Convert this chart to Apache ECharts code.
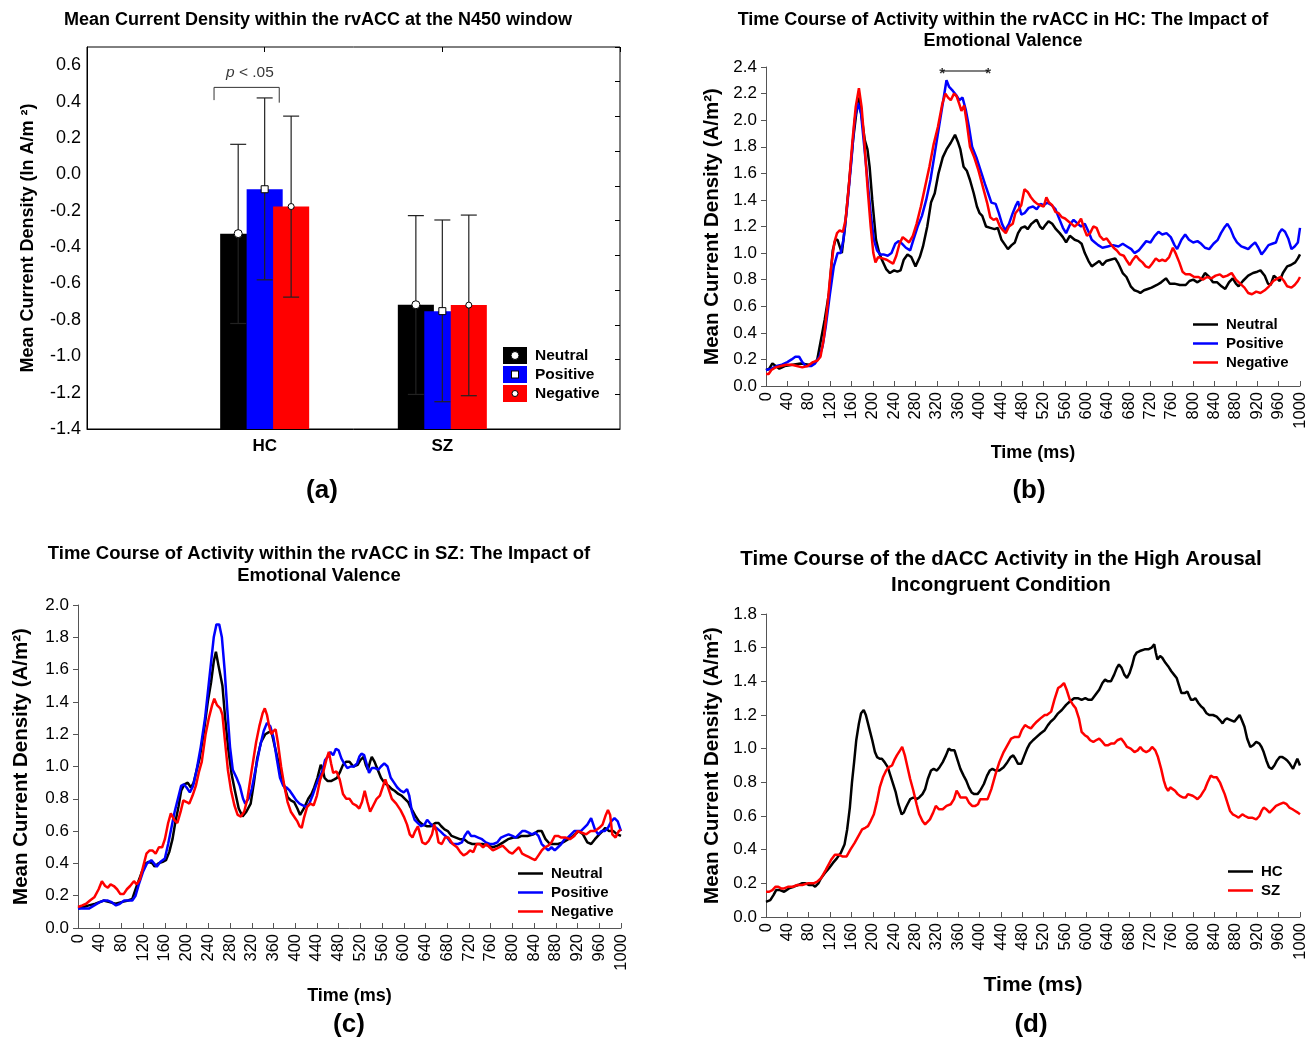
<!DOCTYPE html>
<html><head><meta charset="utf-8">
<script src="https://cdn.jsdelivr.net/npm/echarts@6/dist/echarts.min.js"></script>
<style>html,body{margin:0;padding:0;background:#fff}#c{width:1314px;height:1040px}</style>
</head><body><div id="c"></div>
<script>
// ---------- Panel (a) data ----------
const groups = ['HC', 'SZ'];
const conditions = ['Neutral', 'Positive', 'Negative'];
const meanNeutral = [-0.326, -0.717];
const meanPositive = [-0.082, -0.752];
const meanNegative = [-0.177, -0.719];
const loNeutral = [-0.82, -1.21];
const hiNeutral = [0.165, -0.227];
const loPositive = [-0.58, -1.25];
const hiPositive = [0.42, -0.251];
const loNegative = [-0.675, -1.217];
const hiNegative = [0.32, -0.224];
const yTicksA = [-1.4, 0.7];

// ---------- Panel (b) data: HC rvACC time course [ms, A/m2] ----------
const bNeutral = [[0,0.12],[6,0.13],[12,0.17],[18,0.15],[25,0.13],[35,0.15],[50,0.16],[65,0.17],[80,0.16],[90,0.17],[96,0.2],[103,0.35],[110,0.5],[118,0.7],[125,1.02],[130,1.1],[134,1.1],[142,1.0],[148,1.2],[155,1.5],[163,1.85],[169,2.05],[174,2.17],[180,2.0],[185,1.85],[190,1.78],[194,1.65],[199,1.4],[206,1.1],[212,1.0],[217,0.95],[225,0.88],[232,0.85],[240,0.87],[246,0.86],[252,0.87],[258,0.95],[265,0.99],[272,0.97],[280,0.9],[288,0.97],[294,1.05],[302,1.2],[309,1.38],[316,1.45],[323,1.6],[331,1.72],[338,1.78],[346,1.83],[354,1.89],[360,1.83],[364,1.78],[370,1.65],[376,1.62],[382,1.55],[389,1.45],[395,1.35],[400,1.3],[405,1.28],[412,1.2],[420,1.19],[428,1.18],[434,1.19],[441,1.1],[448,1.06],[453,1.03],[460,1.06],[466,1.08],[472,1.15],[478,1.19],[485,1.2],[490,1.18],[497,1.22],[503,1.24],[507,1.25],[513,1.2],[518,1.18],[523,1.21],[529,1.24],[536,1.22],[543,1.18],[550,1.15],[556,1.12],[562,1.08],[569,1.13],[578,1.1],[585,1.09],[591,1.07],[597,1.0],[604,0.94],[610,0.9],[617,0.92],[624,0.94],[630,0.91],[637,0.94],[645,0.95],[654,0.96],[660,0.92],[668,0.85],[675,0.82],[683,0.75],[690,0.72],[697,0.71],[701,0.7],[708,0.72],[715,0.73],[722,0.74],[732,0.76],[740,0.78],[749,0.81],[756,0.77],[765,0.77],[775,0.76],[786,0.76],[793,0.79],[800,0.8],[808,0.78],[815,0.8],[822,0.85],[830,0.82],[837,0.78],[845,0.78],[853,0.75],[860,0.73],[867,0.78],[874,0.81],[880,0.77],[885,0.75],[893,0.79],[903,0.83],[912,0.85],[920,0.86],[926,0.87],[934,0.83],[940,0.77],[945,0.76],[951,0.83],[957,0.81],[962,0.79],[968,0.85],[976,0.9],[983,0.91],[991,0.93],[996,0.96],[1000,0.99]];
const bPositive = [[0,0.12],[10,0.13],[20,0.15],[30,0.16],[40,0.18],[48,0.2],[55,0.22],[62,0.22],[68,0.18],[75,0.15],[85,0.15],[92,0.17],[100,0.22],[106,0.3],[112,0.45],[120,0.7],[127,0.9],[134,1.0],[140,1.0],[145,1.1],[152,1.35],[160,1.7],[166,2.0],[172,2.13],[178,2.05],[184,1.8],[190,1.55],[196,1.3],[202,1.1],[208,1.02],[214,0.99],[220,0.99],[228,0.98],[235,1.0],[242,1.07],[248,1.09],[255,1.07],[262,1.04],[270,1.02],[276,1.1],[284,1.2],[292,1.28],[300,1.4],[308,1.55],[316,1.75],[324,1.95],[332,2.15],[338,2.3],[343,2.25],[350,2.22],[356,2.19],[362,2.15],[368,2.17],[374,2.08],[380,1.95],[386,1.8],[394,1.72],[402,1.62],[410,1.52],[416,1.45],[422,1.38],[430,1.37],[436,1.3],[442,1.22],[448,1.17],[455,1.22],[462,1.3],[468,1.36],[472,1.39],[478,1.29],[484,1.3],[492,1.34],[500,1.35],[507,1.33],[514,1.37],[520,1.36],[527,1.38],[535,1.36],[542,1.33],[550,1.25],[556,1.19],[562,1.15],[570,1.22],[576,1.25],[584,1.22],[590,1.2],[597,1.22],[604,1.16],[610,1.1],[616,1.08],[622,1.06],[630,1.04],[640,1.05],[650,1.06],[660,1.05],[668,1.07],[676,1.05],[684,1.03],[690,1.0],[698,1.02],[706,1.06],[712,1.09],[720,1.08],[728,1.13],[735,1.16],[742,1.14],[750,1.15],[758,1.12],[765,1.06],[770,1.03],[778,1.1],[785,1.14],[792,1.1],[800,1.08],[808,1.09],[815,1.07],[822,1.04],[830,1.03],[838,1.07],[846,1.1],[852,1.15],[858,1.19],[864,1.22],[870,1.18],[876,1.12],[882,1.08],[890,1.05],[897,1.04],[903,1.03],[910,1.06],[916,1.08],[922,1.04],[928,0.99],[934,1.02],[941,1.06],[948,1.07],[955,1.08],[961,1.15],[966,1.18],[972,1.16],[978,1.11],[984,1.03],[990,1.05],[996,1.08],[1000,1.19]];
const bNegative = [[0,0.09],[5,0.09],[10,0.12],[18,0.14],[28,0.15],[38,0.16],[48,0.16],[58,0.15],[68,0.14],[78,0.15],[88,0.18],[96,0.19],[102,0.22],[108,0.35],[115,0.6],[122,0.9],[128,1.08],[133,1.15],[138,1.17],[144,1.16],[149,1.25],[155,1.5],[162,1.85],[168,2.1],[174,2.24],[179,2.1],[184,1.85],[190,1.5],[196,1.2],[201,1.0],[205,0.93],[210,0.97],[218,0.96],[226,0.95],[234,0.93],[238,0.92],[244,0.98],[250,1.07],[256,1.12],[262,1.1],[268,1.08],[275,1.13],[282,1.22],[290,1.35],[298,1.5],[306,1.65],[314,1.82],[322,1.95],[330,2.12],[336,2.2],[341,2.17],[346,2.15],[352,2.2],[357,2.18],[362,2.12],[366,2.07],[371,2.11],[376,1.98],[382,1.8],[390,1.72],[398,1.62],[406,1.5],[414,1.38],[420,1.27],[426,1.25],[432,1.26],[438,1.2],[444,1.17],[449,1.15],[455,1.2],[462,1.22],[467,1.3],[473,1.33],[478,1.36],[484,1.48],[490,1.46],[496,1.42],[502,1.39],[508,1.37],[514,1.36],[520,1.35],[525,1.42],[530,1.38],[536,1.36],[542,1.31],[548,1.3],[554,1.27],[560,1.26],[566,1.24],[572,1.22],[578,1.2],[584,1.22],[590,1.26],[596,1.18],[601,1.13],[607,1.15],[613,1.2],[619,1.19],[625,1.13],[632,1.1],[638,1.11],[645,1.07],[651,1.04],[657,1.02],[663,0.99],[670,0.98],[676,0.94],[681,0.91],[687,0.95],[693,0.98],[699,0.95],[705,0.93],[711,0.9],[717,0.89],[723,0.92],[730,0.96],[736,0.94],[742,0.95],[748,0.94],[755,0.97],[762,1.04],[768,0.99],[774,0.93],[780,0.86],[786,0.84],[794,0.84],[802,0.82],[810,0.82],[818,0.8],[826,0.82],[834,0.81],[842,0.83],[850,0.84],[856,0.82],[864,0.83],[872,0.85],[880,0.8],[888,0.77],[896,0.74],[903,0.7],[910,0.69],[918,0.71],[926,0.7],[934,0.72],[942,0.75],[950,0.79],[958,0.81],[964,0.82],[970,0.79],[976,0.75],[984,0.74],[990,0.76],[996,0.79],[1000,0.82]];
const bSignificance = [[330, 2.37], [416, 2.37]];

// ---------- Panel (c) data: SZ rvACC time course ----------
const cNeutral = [[0,0.12],[10,0.13],[20,0.14],[32,0.15],[47,0.17],[58,0.16],[69,0.15],[80,0.16],[92,0.17],[100,0.18],[107,0.25],[118,0.35],[125,0.4],[130,0.41],[137,0.4],[141,0.38],[148,0.4],[156,0.41],[162,0.42],[168,0.47],[174,0.55],[179,0.65],[185,0.75],[190,0.85],[196,0.89],[202,0.9],[208,0.87],[213,0.9],[218,0.97],[224,1.05],[232,1.22],[239,1.4],[245,1.52],[250,1.65],[254,1.71],[259,1.62],[266,1.5],[271,1.3],[277,1.1],[283,0.95],[289,0.85],[296,0.74],[303,0.69],[310,0.72],[318,0.77],[324,0.9],[330,1.05],[337,1.15],[345,1.2],[350,1.21],[356,1.22],[362,1.13],[371,1.0],[378,0.9],[386,0.81],[392,0.79],[398,0.78],[404,0.74],[409,0.7],[416,0.74],[424,0.8],[430,0.83],[435,0.87],[441,0.93],[447,1.01],[450,0.99],[454,0.93],[460,0.91],[466,0.91],[472,0.92],[477,0.93],[483,0.97],[488,1.01],[494,1.03],[500,1.03],[507,1.0],[515,1.01],[520,1.04],[526,1.06],[530,1.01],[534,0.98],[538,1.03],[541,1.06],[546,1.03],[552,0.98],[558,0.93],[564,0.9],[572,0.88],[578,0.86],[583,0.85],[590,0.83],[596,0.82],[602,0.8],[608,0.78],[612,0.75],[617,0.72],[622,0.69],[628,0.66],[635,0.64],[643,0.63],[650,0.63],[658,0.65],[664,0.65],[669,0.63],[675,0.61],[681,0.6],[688,0.57],[696,0.56],[703,0.55],[711,0.55],[718,0.53],[726,0.52],[735,0.52],[745,0.52],[755,0.51],[764,0.5],[773,0.51],[783,0.53],[792,0.55],[802,0.56],[810,0.56],[817,0.57],[828,0.57],[839,0.58],[847,0.6],[854,0.6],[861,0.55],[869,0.52],[876,0.52],[884,0.52],[893,0.53],[903,0.55],[912,0.57],[922,0.6],[930,0.58],[938,0.53],[945,0.52],[952,0.55],[960,0.58],[966,0.6],[971,0.62],[978,0.6],[986,0.6],[993,0.58],[1000,0.57]];
const cPositive = [[0,0.12],[10,0.12],[20,0.12],[30,0.14],[40,0.16],[48,0.17],[55,0.17],[62,0.16],[70,0.14],[77,0.15],[85,0.17],[92,0.17],[100,0.17],[106,0.2],[112,0.27],[120,0.35],[127,0.4],[135,0.42],[140,0.4],[145,0.38],[152,0.41],[160,0.43],[166,0.52],[172,0.62],[178,0.72],[184,0.8],[190,0.88],[195,0.89],[200,0.87],[206,0.84],[212,0.88],[218,0.97],[226,1.12],[234,1.3],[242,1.55],[250,1.8],[255,1.88],[260,1.88],[265,1.8],[270,1.6],[275,1.35],[280,1.12],[285,0.98],[292,0.93],[298,0.88],[304,0.8],[308,0.77],[314,0.8],[320,0.86],[328,1.0],[335,1.12],[342,1.22],[348,1.27],[354,1.25],[360,1.18],[366,1.05],[372,0.93],[378,0.88],[384,0.87],[390,0.85],[396,0.82],[402,0.79],[408,0.77],[414,0.76],[420,0.75],[426,0.77],[432,0.82],[438,0.88],[444,0.93],[450,0.97],[455,1.04],[460,1.06],[465,1.09],[470,1.07],[475,1.11],[480,1.1],[485,1.05],[490,1.02],[496,0.99],[502,1.0],[508,1.0],[514,1.02],[518,1.06],[522,1.08],[527,1.07],[532,1.01],[536,0.96],[541,0.99],[547,0.99],[553,0.98],[558,1.0],[564,1.02],[570,1.0],[576,0.93],[582,0.9],[588,0.87],[594,0.85],[600,0.84],[606,0.86],[610,0.82],[615,0.72],[620,0.67],[626,0.65],[632,0.63],[638,0.64],[643,0.67],[648,0.65],[654,0.63],[660,0.62],[667,0.6],[673,0.58],[680,0.56],[686,0.53],[692,0.52],[700,0.52],[707,0.53],[712,0.57],[718,0.6],[724,0.57],[730,0.57],[737,0.56],[744,0.55],[751,0.53],[758,0.52],[765,0.52],[772,0.53],[779,0.56],[786,0.57],[793,0.58],[800,0.57],[806,0.56],[812,0.58],[818,0.6],[824,0.6],[830,0.59],[836,0.58],[842,0.59],[848,0.57],[854,0.52],[860,0.5],[866,0.48],[872,0.5],[878,0.48],[884,0.5],[890,0.52],[896,0.55],[902,0.56],[908,0.58],[914,0.6],[920,0.6],[926,0.6],[932,0.62],[938,0.64],[945,0.68],[952,0.61],[958,0.58],[964,0.6],[970,0.6],[976,0.62],[982,0.66],[988,0.68],[994,0.66],[1000,0.6]];
const cNegative = [[0,0.13],[8,0.14],[15,0.15],[22,0.17],[30,0.19],[38,0.24],[44,0.29],[50,0.26],[55,0.25],[60,0.27],[66,0.26],[72,0.24],[78,0.21],[84,0.21],[90,0.24],[96,0.26],[103,0.29],[108,0.27],[114,0.3],[120,0.38],[126,0.46],[132,0.48],[137,0.48],[143,0.46],[149,0.5],[155,0.5],[160,0.55],[166,0.65],[171,0.71],[177,0.67],[183,0.65],[189,0.72],[194,0.79],[200,0.78],[205,0.77],[211,0.82],[217,0.88],[223,0.97],[228,1.03],[235,1.2],[241,1.3],[247,1.38],[251,1.42],[256,1.38],[262,1.36],[266,1.32],[270,1.18],[276,0.98],[282,0.85],[288,0.76],[294,0.7],[300,0.69],[306,0.72],[312,0.8],[320,0.98],[328,1.15],[334,1.25],[340,1.33],[344,1.36],[348,1.32],[352,1.25],[356,1.2],[360,1.22],[364,1.23],[368,1.15],[374,1.0],[380,0.88],[386,0.78],[392,0.72],[396,0.7],[400,0.68],[404,0.66],[408,0.63],[412,0.62],[416,0.68],[422,0.75],[428,0.77],[434,0.76],[440,0.82],[446,0.92],[452,0.97],[458,1.05],[462,1.09],[466,1.02],[470,0.96],[476,0.97],[482,0.92],[488,0.83],[494,0.8],[500,0.8],[506,0.77],[512,0.76],[518,0.74],[523,0.78],[528,0.85],[533,0.78],[538,0.72],[544,0.76],[550,0.8],[556,0.82],[562,0.88],[566,0.92],[572,0.86],[578,0.8],[586,0.77],[594,0.73],[600,0.69],[606,0.64],[611,0.58],[616,0.56],[621,0.6],[626,0.63],[630,0.58],[634,0.53],[640,0.52],[646,0.54],[652,0.58],[656,0.64],[660,0.6],[664,0.53],[670,0.52],[676,0.56],[682,0.56],[690,0.52],[698,0.5],[704,0.47],[710,0.45],[716,0.46],[722,0.48],[728,0.47],[734,0.52],[740,0.52],[746,0.5],[752,0.52],[758,0.5],[764,0.48],[770,0.49],[776,0.5],[782,0.51],[788,0.49],[794,0.47],[800,0.46],[806,0.48],[812,0.5],[818,0.46],[824,0.45],[830,0.44],[836,0.43],[842,0.42],[848,0.45],[854,0.48],[860,0.5],[866,0.51],[872,0.53],[878,0.57],[884,0.57],[890,0.56],[898,0.56],[906,0.55],[914,0.57],[920,0.6],[928,0.59],[936,0.58],[944,0.6],[952,0.6],[960,0.62],[966,0.64],[972,0.7],[976,0.73],[980,0.7],[984,0.58],[990,0.56],[996,0.6],[1000,0.61]];

// ---------- Panel (d) data: dACC, high arousal incongruent ----------
const dHC = [[0,0.09],[2,0.09],[8,0.1],[14,0.13],[19,0.16],[26,0.16],[34,0.15],[43,0.17],[52,0.18],[60,0.19],[67,0.2],[74,0.2],[81,0.19],[88,0.19],[92,0.18],[98,0.2],[103,0.23],[110,0.26],[118,0.29],[125,0.32],[133,0.35],[140,0.38],[147,0.43],[152,0.52],[157,0.65],[161,0.8],[165,0.92],[169,1.05],[174,1.15],[178,1.21],[183,1.23],[187,1.2],[191,1.15],[195,1.1],[199,1.05],[204,0.98],[208,0.95],[213,0.94],[217,0.94],[222,0.92],[228,0.89],[235,0.82],[243,0.74],[248,0.67],[254,0.61],[258,0.62],[262,0.65],[265,0.67],[270,0.7],[276,0.71],[282,0.7],[287,0.71],[293,0.73],[298,0.76],[303,0.82],[309,0.87],[314,0.88],[320,0.87],[325,0.89],[331,0.92],[337,0.96],[342,1.0],[347,0.99],[353,0.99],[358,0.94],[364,0.88],[370,0.84],[375,0.81],[380,0.77],[385,0.74],[390,0.73],[396,0.73],[401,0.75],[408,0.79],[414,0.84],[419,0.87],[424,0.88],[430,0.87],[437,0.87],[445,0.89],[452,0.92],[458,0.95],[463,0.96],[467,0.94],[472,0.91],[478,0.91],[484,0.96],[489,1.0],[494,1.03],[500,1.05],[507,1.07],[514,1.09],[522,1.11],[528,1.14],[533,1.16],[540,1.18],[547,1.21],[554,1.23],[562,1.26],[569,1.28],[577,1.3],[584,1.3],[591,1.29],[598,1.3],[604,1.29],[610,1.29],[617,1.32],[624,1.35],[630,1.39],[635,1.41],[640,1.4],[646,1.4],[652,1.44],[657,1.48],[661,1.5],[666,1.48],[671,1.44],[676,1.42],[681,1.45],[686,1.5],[690,1.55],[694,1.57],[700,1.58],[709,1.59],[716,1.59],[722,1.6],[727,1.62],[730,1.57],[733,1.53],[738,1.55],[742,1.54],[748,1.51],[753,1.49],[759,1.46],[764,1.44],[769,1.42],[774,1.37],[778,1.33],[784,1.33],[789,1.34],[793,1.31],[796,1.29],[800,1.29],[804,1.3],[810,1.27],[815,1.25],[819,1.24],[825,1.21],[830,1.2],[837,1.2],[844,1.19],[850,1.17],[855,1.15],[859,1.17],[863,1.18],[870,1.17],[877,1.16],[882,1.18],[887,1.2],[891,1.17],[896,1.13],[901,1.06],[907,1.01],[912,1.02],[918,1.04],[924,1.03],[928,1.01],[932,0.98],[937,0.93],[942,0.89],[947,0.88],[952,0.9],[957,0.93],[962,0.95],[967,0.95],[972,0.94],[976,0.93],[981,0.91],[987,0.88],[991,0.91],[995,0.94],[1000,0.9]];
const dSZ = [[0,0.15],[6,0.15],[12,0.16],[18,0.18],[23,0.18],[28,0.17],[34,0.17],[42,0.18],[50,0.18],[59,0.19],[68,0.19],[78,0.2],[89,0.2],[96,0.21],[103,0.23],[112,0.28],[122,0.34],[129,0.37],[136,0.37],[143,0.36],[151,0.36],[158,0.4],[166,0.44],[173,0.48],[180,0.52],[186,0.53],[191,0.54],[196,0.57],[202,0.61],[208,0.69],[213,0.77],[219,0.83],[225,0.87],[230,0.89],[236,0.9],[240,0.93],[245,0.96],[251,0.99],[255,1.01],[260,0.96],[265,0.89],[270,0.82],[276,0.75],[282,0.67],[287,0.61],[293,0.57],[298,0.55],[301,0.55],[307,0.58],[313,0.62],[318,0.66],[324,0.64],[331,0.64],[338,0.66],[346,0.67],[352,0.7],[357,0.75],[361,0.73],[364,0.71],[370,0.71],[375,0.71],[380,0.68],[386,0.66],[392,0.66],[397,0.67],[401,0.7],[404,0.71],[410,0.7],[415,0.7],[422,0.76],[430,0.85],[437,0.92],[445,0.98],[452,1.02],[459,1.06],[466,1.07],[474,1.07],[479,1.11],[485,1.14],[490,1.13],[496,1.12],[501,1.14],[507,1.16],[514,1.18],[522,1.2],[526,1.2],[529,1.19],[534,1.22],[540,1.29],[547,1.36],[552,1.37],[558,1.39],[563,1.35],[569,1.29],[575,1.26],[580,1.24],[586,1.18],[591,1.1],[597,1.08],[602,1.07],[607,1.05],[613,1.04],[618,1.05],[624,1.06],[630,1.04],[635,1.02],[640,1.02],[646,1.03],[652,1.03],[658,1.05],[665,1.06],[670,1.04],[676,1.01],[683,1.0],[690,0.98],[696,0.99],[701,1.01],[706,0.99],[712,0.98],[718,0.99],[723,1.01],[729,0.99],[734,0.95],[740,0.88],[745,0.81],[749,0.77],[753,0.75],[757,0.77],[760,0.77],[766,0.75],[771,0.73],[775,0.72],[781,0.71],[786,0.71],[790,0.73],[793,0.74],[799,0.72],[804,0.71],[808,0.7],[814,0.72],[818,0.74],[822,0.76],[827,0.8],[833,0.84],[838,0.83],[844,0.83],[850,0.8],[855,0.76],[859,0.73],[864,0.68],[869,0.63],[874,0.61],[880,0.6],[885,0.59],[888,0.6],[892,0.61],[897,0.6],[903,0.59],[910,0.59],[918,0.58],[924,0.6],[928,0.63],[932,0.65],[937,0.64],[943,0.62],[949,0.64],[955,0.66],[962,0.67],[969,0.68],[975,0.67],[980,0.65],[986,0.64],[991,0.63],[996,0.62],[1000,0.61]];

// ---------- chart ----------
const FONT = "'Liberation Sans', Arial, sans-serif";
const BLACK = '#000000', BLUE = '#0000ff', RED = '#ff0000';
const chart = echarts.init(document.getElementById('c'), null, {renderer: 'canvas'});

function svgIcon(fill, marker) {
  const s = "<svg xmlns='http://www.w3.org/2000/svg' width='24' height='17'><rect width='24' height='17' fill='" + fill + "'/>" + marker + "</svg>";
  return 'image://data:image/svg+xml;charset=utf-8,' + encodeURIComponent(s);
}
const markerSvg = [
  "<circle cx='12' cy='8.5' r='4' fill='#fff' stroke='#000' stroke-width='1'/>",
  "<rect x='8.5' y='5' width='7' height='7' fill='#fff' stroke='#000' stroke-width='1'/>",
  "<circle cx='12' cy='8.5' r='3' fill='#fff' stroke='#000' stroke-width='1'/>"
];
const condColors = [BLACK, BLUE, RED];
const means = [meanNeutral, meanPositive, meanNegative];
const los = [loNeutral, loPositive, loNegative];
const his = [hiNeutral, hiPositive, hiNegative];
const barOffsetUnits = [-0.149, 0, 0.149];
const barWidthUnits = 0.203;

function barRender(ci) {
  return function (params, api) {
    const x = api.value(0), v = api.value(1);
    const unit = api.size([1, 0])[0];
    const base = api.coord([x, yTicksA[0]]);
    const top = api.coord([x, v]);
    const cx = base[0] + barOffsetUnits[ci] * unit;
    const w = barWidthUnits * unit;
    return {type: 'rect', shape: {x: cx - w / 2, y: top[1], width: w, height: base[1] - top[1]}, style: {fill: condColors[ci]}};
  };
}
function errRender(ci) {
  return function (params, api) {
    const x = api.value(0);
    const unit = api.size([1, 0])[0];
    const m = api.coord([x, api.value(1)]);
    const lo = api.coord([x, api.value(2)]);
    const hi = api.coord([x, api.value(3)]);
    const cx = m[0] + barOffsetUnits[ci] * unit;
    const cap = 8;
    const ls = {stroke: '#222', lineWidth: 1.2};
    let mk;
    if (ci === 0) mk = {type: 'circle', shape: {cx: cx, cy: m[1], r: 4}, style: {fill: '#fff', stroke: '#000', lineWidth: 1}};
    else if (ci === 1) mk = {type: 'rect', shape: {x: cx - 3.5, y: m[1] - 3.5, width: 7, height: 7}, style: {fill: '#fff', stroke: '#000', lineWidth: 1}};
    else mk = {type: 'circle', shape: {cx: cx, cy: m[1], r: 3}, style: {fill: '#fff', stroke: '#000', lineWidth: 1}};
    return {type: 'group', children: [
      {type: 'line', shape: {x1: cx, y1: hi[1], x2: cx, y2: lo[1]}, style: ls},
      {type: 'line', shape: {x1: cx - cap, y1: hi[1], x2: cx + cap, y2: hi[1]}, style: ls},
      {type: 'line', shape: {x1: cx - cap, y1: lo[1], x2: cx + cap, y2: lo[1]}, style: ls},
      mk
    ]};
  };
}

const seriesA = [];
conditions.forEach(function (c, ci) {
  seriesA.push({
    type: 'custom', name: 'a|' + c, xAxisIndex: 0, yAxisIndex: 0, z: 2,
    itemStyle: {color: condColors[ci]},
    renderItem: barRender(ci),
    data: groups.map(function (g, gi) { return [gi + 1, means[ci][gi]]; })
  });
});
conditions.forEach(function (c, ci) {
  seriesA.push({
    type: 'custom', name: 'aerr' + ci, xAxisIndex: 0, yAxisIndex: 0, z: 4,
    renderItem: errRender(ci),
    data: groups.map(function (g, gi) { return [gi + 1, means[ci][gi], los[ci][gi], his[ci][gi]]; })
  });
});
// significance bracket in (a)
seriesA.push({
  type: 'line', name: 'bracket', xAxisIndex: 0, yAxisIndex: 0, symbol: 'none', silent: true, z: 5,
  lineStyle: {color: '#333', width: 1},
  data: [[0.715, 0.408], [0.715, 0.478], [1.082, 0.478], [1.082, 0.394]]
});
seriesA.push({
  type: 'scatter', name: 'ptext', xAxisIndex: 0, yAxisIndex: 0, symbolSize: 1, silent: true,
  itemStyle: {color: 'rgba(0,0,0,0)'},
  label: {show: true, position: 'inside', formatter: '{i|p} < .05', color: '#000', fontSize: 15.5, fontFamily: FONT,
    rich: {i: {fontStyle: 'italic', fontSize: 15.5, fontFamily: FONT, color: '#000'}}},
  data: [[0.917, 0.558]]
});

function lineSeries(name, data, color, gi) {
  return {type: 'line', name: name, xAxisIndex: gi, yAxisIndex: gi, data: data, symbol: 'none', showSymbol: false,
    smooth: false, lineStyle: {color: color, width: 2.5}, itemStyle: {color: color}, silent: true, z: 3};
}

const grids = [
  {left: 87, top: 47, width: 533, height: 382, show: true, borderColor: '#000', borderWidth: 1},
  {left: 766, top: 67, width: 534, height: 319},
  {left: 78, top: 605, width: 543, height: 323},
  {left: 766, top: 614, width: 534, height: 303}
];

function timeXAxis(gi, nameSize, nameGap) {
  return {type: 'value', gridIndex: gi, min: 0, max: 1000, interval: 40,
    axisLine: {show: true, onZero: false, lineStyle: {color: '#555', width: 1}},
    axisTick: {show: true, inside: true, length: 5, lineStyle: {color: '#555'}},
    axisLabel: {rotate: 90, fontSize: 16.5, color: '#000', margin: 6, fontFamily: FONT, formatter: function (v) { return String(v); }},
    splitLine: {show: false},
    name: 'Time (ms)', nameLocation: 'middle', nameGap: nameGap,
    nameTextStyle: {fontWeight: 'bold', fontSize: nameSize, color: '#000', fontFamily: FONT}};
}
function densityYAxis(gi, max, nameGap) {
  return {type: 'value', gridIndex: gi, min: 0, max: max, interval: 0.2,
    axisLine: {show: true, onZero: false, lineStyle: {color: '#555', width: 1}},
    axisTick: {show: true, inside: false, length: 5, lineStyle: {color: '#555'}},
    axisLabel: {fontSize: 17, color: '#000', margin: 9, fontFamily: FONT, formatter: function (v) { return v.toFixed(1); }},
    splitLine: {show: false},
    name: 'Mean Current Density (A/m²)', nameLocation: 'middle', nameRotate: 90, nameGap: nameGap,
    nameTextStyle: {fontWeight: 'bold', fontSize: 20.5, color: '#000', fontFamily: FONT}};
}

const titleStyle = function (size, lh) { return {fontSize: size, fontWeight: 'bold', color: '#000', fontFamily: FONT, lineHeight: lh}; };
const legendText = function (size, lh) { return {fontWeight: 'bold', fontSize: size, color: '#000', fontFamily: FONT, lineHeight: lh, padding: [0, 0, 0, 3]}; };

const option = {
  animation: false,
  backgroundColor: '#fff',
  title: [
    {text: 'Mean Current Density within the rvACC at the N450 window', left: 318, top: 9, textAlign: 'center', padding: 0, textStyle: titleStyle(18, 22)},
    {text: 'Time Course of Activity within the rvACC in HC: The Impact of\nEmotional Valence', left: 1003, top: 9, textAlign: 'center', padding: 0, textStyle: titleStyle(18, 21.5)},
    {text: 'Time Course of Activity within the rvACC in SZ: The Impact of\nEmotional Valence', left: 319, top: 543, textAlign: 'center', padding: 0, textStyle: titleStyle(18.5, 22)},
    {text: 'Time Course of the dACC Activity in the High Arousal\nIncongruent Condition', left: 1001, top: 546, textAlign: 'center', padding: 0, textStyle: titleStyle(20.5, 26)},
    {text: '(a)', left: 322, top: 477, textAlign: 'center', padding: 0, textStyle: titleStyle(26, 28)},
    {text: '(b)', left: 1029, top: 477, textAlign: 'center', padding: 0, textStyle: titleStyle(26, 28)},
    {text: '(c)', left: 349, top: 1011, textAlign: 'center', padding: 0, textStyle: titleStyle(26, 28)},
    {text: '(d)', left: 1031, top: 1011, textAlign: 'center', padding: 0, textStyle: titleStyle(26, 28)}
  ],
  legend: [
    {orient: 'vertical', left: 503, top: 347, padding: 0, itemWidth: 24, itemHeight: 17, itemGap: 2, selectedMode: false,
      data: conditions.map(function (c, ci) { return {name: 'a|' + c, icon: svgIcon(condColors[ci], markerSvg[ci])}; }),
      formatter: function (n) { return n.split('|')[1]; },
      textStyle: legendText(15.5, 17)},
    {orient: 'vertical', left: 1193, top: 317, padding: 0, icon: 'rect', itemWidth: 25, itemHeight: 2.5, itemGap: 4, selectedMode: false,
      data: conditions.map(function (c) { return 'b|' + c; }),
      formatter: function (n) { return n.split('|')[1]; },
      textStyle: legendText(15, 15)},
    {orient: 'vertical', left: 518, top: 866, padding: 0, icon: 'rect', itemWidth: 25, itemHeight: 2.5, itemGap: 4, selectedMode: false,
      data: conditions.map(function (c) { return 'c|' + c; }),
      formatter: function (n) { return n.split('|')[1]; },
      textStyle: legendText(15, 15)},
    {orient: 'vertical', left: 1228, top: 864, padding: 0, icon: 'rect', itemWidth: 25, itemHeight: 2.5, itemGap: 4, selectedMode: false,
      data: ['d|HC', 'd|SZ'],
      formatter: function (n) { return n.split('|')[1]; },
      textStyle: legendText(15, 15)}
  ],
  grid: grids,
  xAxis: [
    {type: 'value', gridIndex: 0, min: 0, max: 3, interval: 1,
      axisLine: {show: true, onZero: false, lineStyle: {color: '#000'}}, axisTick: {show: false}, splitLine: {show: false},
      axisLabel: {fontSize: 17, fontWeight: 'bold', color: '#000', margin: 9, fontFamily: FONT,
        formatter: function (v) { return groups[v - 1] || ''; }}},
    timeXAxis(1, 18, 58),
    timeXAxis(2, 18, 59),
    timeXAxis(3, 21, 58),
    {type: 'value', gridIndex: 0, position: 'top', min: 0, max: 3, interval: 1,
      axisLine: {show: false, onZero: false}, axisTick: {show: true, inside: true, length: 5, lineStyle: {color: '#000'}},
      axisLabel: {show: false}, splitLine: {show: false}}
  ],
  yAxis: [
    {type: 'value', gridIndex: 0, min: yTicksA[0], max: yTicksA[1], interval: 0.2,
      axisLine: {show: true, onZero: false, lineStyle: {color: '#000'}}, axisTick: {show: false}, splitLine: {show: false},
      axisLabel: {fontSize: 18, color: '#000', margin: 6, fontFamily: FONT, showMaxLabel: false,
        formatter: function (v) { return v.toFixed(1); }},
      name: 'Mean Current Density (In A/m ²)', nameLocation: 'middle', nameRotate: 90, nameGap: 50,
      nameTextStyle: {fontWeight: 'bold', fontSize: 18, color: '#000', fontFamily: FONT}},
    densityYAxis(1, 2.4, 43),
    densityYAxis(2, 2.0, 46),
    densityYAxis(3, 1.8, 43),
    // right-hand frame ticks of panel (a): the box edge is divided into 11 equal steps
    {type: 'value', gridIndex: 0, position: 'right', min: 0, max: 11, interval: 1,
      axisLine: {show: false, onZero: false}, axisTick: {show: true, inside: true, length: 5, lineStyle: {color: '#000'}},
      axisLabel: {show: false}, splitLine: {show: false}}
  ],
  series: seriesA.concat([
    lineSeries('b|Neutral', bNeutral, BLACK, 1),
    lineSeries('b|Positive', bPositive, BLUE, 1),
    lineSeries('b|Negative', bNegative, RED, 1),
    {type: 'line', name: 'bsig', xAxisIndex: 1, yAxisIndex: 1, data: bSignificance, symbol: 'none', silent: true,
      lineStyle: {color: '#000', width: 1.2}, z: 5},
    {type: 'scatter', name: 'bstar', xAxisIndex: 1, yAxisIndex: 1, data: bSignificance, symbolSize: 1, silent: true,
      itemStyle: {color: 'rgba(0,0,0,0)'}, z: 6,
      label: {show: true, position: 'inside', formatter: '*', fontSize: 15, fontWeight: 'bold', color: '#000', fontFamily: FONT, offset: [0, 3]}},
    lineSeries('c|Neutral', cNeutral, BLACK, 2),
    lineSeries('c|Positive', cPositive, BLUE, 2),
    lineSeries('c|Negative', cNegative, RED, 2),
    lineSeries('d|HC', dHC, BLACK, 3),
    lineSeries('d|SZ', dSZ, RED, 3)
  ])
};
chart.setOption(option);
</script></body></html>
